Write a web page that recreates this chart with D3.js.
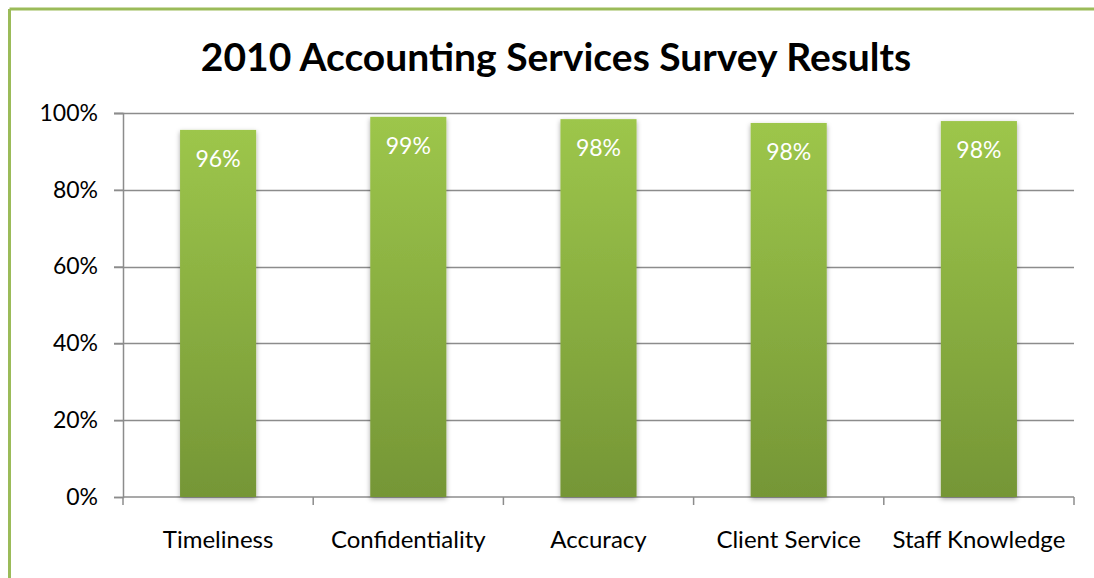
<!DOCTYPE html>
<html><head><meta charset="utf-8">
<script src="https://cdn.jsdelivr.net/npm/d3@7"></script>
<style>body{margin:0;background:#fff;} svg{display:block;}</style>
</head><body>
<svg id="c" width="1094" height="578"></svg>
<script>
const categories = ["Timeliness","Confidentiality","Accuracy","Client Service","Staff Knowledge"];
const values = [0.956, 0.99, 0.984, 0.974, 0.979];
const valueLabels = ["96%","99%","98%","98%","98%"];
const yTicks = [0, 0.2, 0.4, 0.6, 0.8, 1.0];
const title = "2010 Accounting Services Survey Results";

const FONT = "Lato, 'Noto Sans', sans-serif";
const svg = d3.select("#c");
const W = 1094, H = 578;
const m = {left:123, right:20, top:113, bottom:81};

// frame border
svg.append("line").attr("x1",9.5).attr("x2",W).attr("y1",9).attr("y2",9).attr("stroke","#9bbb59").attr("stroke-width",3);
svg.append("line").attr("x1",9.5).attr("x2",9.5).attr("y1",9).attr("y2",H).attr("stroke","#9bbb59").attr("stroke-width",3);

const defs = svg.append("defs");
const grad = defs.append("linearGradient").attr("id","g").attr("x1",0).attr("y1",0).attr("x2",0).attr("y2",1);
grad.append("stop").attr("offset","0%").attr("stop-color","#9dc64b");
grad.append("stop").attr("offset","100%").attr("stop-color","#759636");
const f = defs.append("filter").attr("id","sh").attr("x","-20%").attr("y","-5%").attr("width","140%").attr("height","110%");
f.append("feDropShadow").attr("dx",0).attr("dy",2).attr("stdDeviation",2.5).attr("flood-color","#000").attr("flood-opacity",0.35);

const x = d3.scaleBand().domain(categories).range([m.left, W-m.right]).paddingInner(0.6).paddingOuter(0.3);
const y = d3.scaleLinear().domain([0,1]).range([H-m.bottom, m.top]);

// title
svg.append("text").attr("x",556).attr("y",71).attr("text-anchor","middle")
  .attr("font-family",FONT).attr("font-weight","bold").attr("font-size",39).attr("fill","#000").text(title);

// gridlines
svg.append("g").selectAll("line").data(yTicks.slice(1)).join("line")
  .attr("x1",m.left-9).attr("x2",W-m.right).attr("y1",d=>Math.round(y(d))+0.5).attr("y2",d=>Math.round(y(d))+0.5)
  .attr("stroke","#8c8c8c").attr("stroke-width",1.5);

// y axis
const yAxis = d3.axisLeft(y).tickValues(yTicks).tickFormat(d3.format(".0%")).tickSize(9).tickPadding(16);
const gy = svg.append("g").attr("transform",`translate(${m.left},0)`).call(yAxis);
gy.selectAll("path,line").attr("stroke","#8c8c8c").attr("stroke-width",1.5);
gy.selectAll("text").attr("font-family",FONT).attr("font-size",23).attr("fill","#000");

// x axis with boundary ticks
const bounds = d3.range(categories.length+1).map(i => m.left + i*(W-m.right-m.left)/categories.length);
const gx = svg.append("g");
gx.append("line").attr("x1",m.left).attr("x2",W-m.right).attr("y1",y(0)).attr("y2",y(0)).attr("stroke","#8c8c8c").attr("stroke-width",1.5);
gx.selectAll("line.t").data(bounds).join("line").attr("class","t")
  .attr("x1",d=>d).attr("x2",d=>d).attr("y1",y(0)).attr("y2",y(0)+8).attr("stroke","#8c8c8c").attr("stroke-width",1.5);
gx.selectAll("text").data(categories).join("text")
  .attr("x",d=>x(d)+x.bandwidth()/2).attr("y",y(0)+51).attr("text-anchor","middle")
  .attr("font-family",FONT).attr("font-size",24).attr("fill","#000").text(d=>d);

// bars
svg.append("g").selectAll("rect").data(values).join("rect")
  .attr("x",(d,i)=>x(categories[i])).attr("width",x.bandwidth())
  .attr("y",d=>y(d)).attr("height",d=>y(0)-y(d))
  .attr("fill","url(#g)").attr("filter","url(#sh)");

// labels
svg.append("g").selectAll("text").data(values).join("text")
  .attr("x",(d,i)=>x(categories[i])+x.bandwidth()/2).attr("y",d=>y(d)+37)
  .attr("text-anchor","middle").attr("font-family",FONT).attr("font-size",23).attr("fill","#fff")
  .text((d,i)=>valueLabels[i]);
</script>
</body></html>
